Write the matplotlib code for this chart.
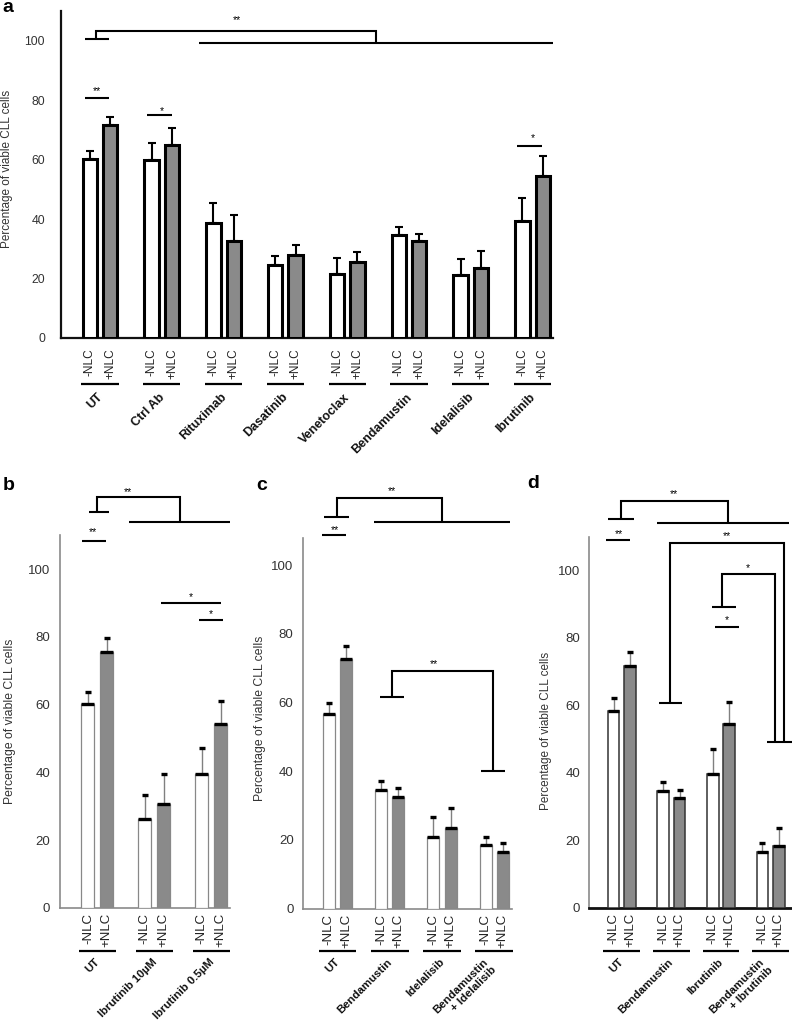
import numpy as np
import matplotlib
matplotlib.use('Agg')
import matplotlib.pyplot as plt

plt.rcParams['font.family'] = ['Liberation Sans', 'DejaVu Sans']

# ---------------- data ----------------
conditions = ['-NLC', '+NLC']

a_groups = ['UT', 'Ctrl Ab', 'Rituximab', 'Dasatinib', 'Venetoclax', 'Bendamustin', 'Idelalisib', 'Ibrutinib']
a_neg = [60.1, 59.9, 38.7, 24.4, 21.5, 34.6, 21.0, 39.4]
a_neg_err = [2.8, 5.6, 6.6, 3.2, 5.3, 2.6, 5.6, 7.8]
a_pos = [71.6, 65.0, 32.6, 27.9, 25.6, 32.6, 23.6, 54.5]
a_pos_err = [2.8, 5.6, 8.6, 3.4, 3.3, 2.4, 5.7, 6.6]

b_groups = ['UT', 'Ibrutinib 10µM', 'Ibrutinib 0.5µM']
b_neg = [60.1, 26.3, 39.4]
b_neg_err = [3.7, 7.0, 7.9]
b_pos = [75.5, 30.7, 54.3]
b_pos_err = [4.2, 8.7, 6.9]

c_groups = ['UT', 'Bendamustin', 'Idelalisib', 'Bendamustin\n+ Idelalisib']
c_neg = [56.8, 34.5, 20.9, 18.5]
c_neg_err = [3.1, 2.7, 5.7, 2.4]
c_pos = [72.8, 32.4, 23.5, 16.4]
c_pos_err = [3.6, 2.6, 5.9, 2.6]

d_groups = ['UT', 'Bendamustin', 'Ibrutinib', 'Bendamustin\n+ Ibrutinib']
d_neg = [58.4, 34.5, 39.6, 16.4]
d_neg_err = [3.7, 2.7, 7.6, 2.7]
d_pos = [71.7, 32.5, 54.5, 18.4]
d_pos_err = [4.1, 2.4, 6.6, 5.1]

yticks = [0, 20, 40, 60, 80, 100]
ylabel = 'Percentage of viable CLL cells'

# ---------------- layout helpers ----------------
W, H = 792, 1025
fig = plt.figure(figsize=(W / 100, H / 100), dpi=100)


def fx(px):
    return px / W


def fy(py):
    return 1 - py / H


def make_axes(left, right, top, bottom):
    return fig.add_axes([fx(left), fy(bottom), (right - left) / W, (bottom - top) / H])


GRAY = '#8a8a8a'
OFF, BW = 0.165, 0.23


def draw_panel(ax, groups, neg, neg_err, pos, pos_err, style, xlim, ylim,
               line_y, label_y, half, tick_fs, tick_pad, xt_pad, xt_fs, grp_fs):
    x = np.arange(len(groups))
    xn, xp = x - OFF, x + OFF
    neg, pos = np.array(neg), np.array(pos)
    neg_err, pos_err = np.array(neg_err), np.array(pos_err)
    if style == 'a':
        for xs, v, e, fc in [(xn, neg, neg_err, 'white'), (xp, pos, pos_err, GRAY)]:
            ax.errorbar(xs, v, yerr=[np.zeros_like(e), e], fmt='none', ecolor='black',
                        elinewidth=1.5, capsize=2.6, capthick=1.5, zorder=2)
            ax.bar(xs, v, width=BW, color=fc, edgecolor='black', linewidth=2.2, zorder=3)
    else:
        ec = '#888888' if style == 'b' else '#333333'
        elw = 0.9 if style == 'b' else 1.1
        for xs, v, e, fc in [(xn, neg, neg_err, 'white'), (xp, pos, pos_err, GRAY)]:
            ax.errorbar(xs, v, yerr=[np.zeros_like(e), e], fmt='none', ecolor='#808080',
                        elinewidth=1.0, capsize=0, zorder=2)
            ax.plot(xs, v + e, linestyle='none', marker='_', ms=4.2, mew=2.4,
                    color='black', zorder=4)
            ax.bar(xs, v, width=BW, color=fc, edgecolor=ec, linewidth=elw, zorder=3)
            ax.hlines(v, xs - BW / 2, xs + BW / 2, color='black', lw=2.4, zorder=4)

    ax.set_xlim(*xlim)
    ax.set_ylim(*ylim)
    ax.set_yticks(yticks)
    ax.set_yticklabels([str(t) for t in yticks])
    ax.tick_params(axis='y', length=0, pad=tick_pad, labelsize=tick_fs, labelcolor='#333333')
    ticks = np.ravel(np.column_stack([xn, xp]))
    ax.set_xticks(ticks)
    ax.set_xticklabels(conditions * len(groups), rotation=90, fontsize=xt_fs, color='#222222')
    ax.tick_params(axis='x', length=0, pad=xt_pad)
    for s in ['top', 'right']:
        ax.spines[s].set_visible(False)
    ax.patch.set_alpha(0)

    for i, g in enumerate(groups):
        ax.plot([i - half, i + half], [line_y, line_y], color='black', lw=1.6,
                clip_on=False, solid_capstyle='butt')
        ax.text(i + 0.08, label_y, g, rotation=45, ha='right', va='top',
                fontsize=grp_fs, fontweight='bold', color='#111111', clip_on=False,
                linespacing=1.2)


def seg(ax, xs, ys, lw=1.5):
    ax.plot(xs, ys, color='black', lw=lw, clip_on=False, solid_capstyle='butt',
            solid_joinstyle='miter', zorder=5)


def star(ax, x, y, s):
    ax.annotate(s, (x, y), xytext=(0, -4), textcoords='offset points', ha='center',
                va='baseline', fontsize=7.5, color='black', annotation_clip=False)


# ---------------- panel a ----------------
axa = make_axes(61, 553, 11.3, 337.7)
draw_panel(axa, a_groups, a_neg, a_neg_err, a_pos, a_pos_err, 'a', (-0.631, 7.33), (0, 110),
           line_y=-15.6, label_y=-18.0, half=0.30, tick_fs=8.8, tick_pad=11.5,
           xt_pad=7.4, xt_fs=8.6, grp_fs=9)
for s in ['left', 'bottom']:
    axa.spines[s].set_linewidth(1.6)
    axa.spines[s].set_color('#111111')
seg(axa, [-0.24, 0.15], [80.9, 80.9]); star(axa, -0.05, 84, '**')
seg(axa, [0.765, 1.17], [75.0, 75.0]); star(axa, 1.0, 77.4, '*')
seg(axa, [6.75, 7.155], [64.6, 64.6]); star(axa, 7.0, 68, '*')
seg(axa, [-0.24, 0.15], [100.8, 100.8])
seg(axa, [-0.07, -0.07, 4.466, 4.466], [100.8, 103.5, 103.5, 99.2])
seg(axa, [1.6, 7.33], [99.2, 99.2])
star(axa, 2.22, 108, '**')

# ---------------- panel b ----------------
axb = make_axes(60, 230, 535.1, 908)
draw_panel(axb, b_groups, b_neg, b_neg_err, b_pos, b_pos_err, 'b', (-0.655, 2.33), (0, 110),
           line_y=-12.6, label_y=-14.4, half=0.325, tick_fs=9.5, tick_pad=7,
           xt_pad=3.6, xt_fs=9.5, grp_fs=8.2)
for s in ['left', 'bottom']:
    axb.spines[s].set_color('#8a8a8a')
    axb.spines[s].set_linewidth(1.2)
seg(axb, [-0.27, 0.153], [108.4, 108.4]); star(axb, -0.07, 111.7, '**')
seg(axb, [-0.146, 0.2], [116.9, 116.9])
seg(axb, [0.0, 0.0, 1.453, 1.453], [116.9, 121.3, 121.3, 113.9])
seg(axb, [0.557, 2.33], [113.9, 113.9]); star(axb, 0.534, 123.5, '**')
seg(axb, [1.114, 2.169], [90.1, 90.1]); star(axb, 1.647, 92.5, '*')
seg(axb, [1.782, 2.204], [85.1, 85.1]); star(axb, 2.0, 87.4, '*')

# ---------------- panel c ----------------
axc = make_axes(303.3, 512, 537.5, 908.75)
draw_panel(axc, c_groups, c_neg, c_neg_err, c_pos, c_pos_err, 'b', (-0.654, 3.34), (0, 108),
           line_y=-12.2, label_y=-14.0, half=0.36, tick_fs=9.5, tick_pad=7,
           xt_pad=3.6, xt_fs=9.5, grp_fs=8.2)
for s in ['left', 'bottom']:
    axc.spines[s].set_color('#8a8a8a')
    axc.spines[s].set_linewidth(1.2)
seg(axc, [-0.302, 0.157], [108.8, 108.8]); star(axc, -0.054, 110.9, '**')
seg(axc, [-0.253, 0.226], [113.9, 113.9])
seg(axc, [-0.01, -0.01, 1.993, 1.993], [113.9, 119.4, 119.4, 112.4])
seg(axc, [0.704, 3.3], [112.4, 112.4]); star(axc, 1.05, 122.2, '**')
seg(axc, [0.813, 1.278], [61.6, 61.6])
seg(axc, [1.05, 1.05, 2.969, 2.969], [61.6, 69.1, 69.1, 40.0])
seg(axc, [2.74, 3.205], [40.0, 40.0]); star(axc, 1.846, 72, '**')

# ---------------- panel d ----------------
axd = make_axes(589.3, 792, 536.9, 907.6)
draw_panel(axd, d_groups, d_neg, d_neg_err, d_pos, d_pos_err, 'd', (-0.653, 3.43), (0, 110),
           line_y=-12.8, label_y=-14.6, half=0.37, tick_fs=9.5, tick_pad=6.5,
           xt_pad=3.6, xt_fs=9.5, grp_fs=8.2)
axd.spines['left'].set_color('#8a8a8a')
axd.spines['left'].set_linewidth(1.2)
axd.spines['bottom'].set_color('#111111')
axd.spines['bottom'].set_linewidth(2.0)
seg(axd, [-0.317, 0.167], [109.1, 109.1]); star(axd, -0.05, 111.7, '**')
seg(axd, [-0.27, 0.254], [115.3, 115.3])
seg(axd, [-0.014, -0.014, 2.137, 2.137], [115.3, 120.7, 120.7, 114.0])
seg(axd, [0.706, 3.36], [114.0, 114.0]); star(axd, 1.054, 123.6, '**')
seg(axd, [0.974, 0.974, 3.272, 3.272], [60.6, 108.3, 108.3, 49.2])
seg(axd, [0.758, 1.222], [60.6, 60.6])
seg(axd, [2.935, 3.427], [49.2, 49.2]); star(axd, 2.123, 111, '**')
seg(axd, [2.022, 2.022, 3.09, 3.09], [89.3, 98.9, 98.9, 49.2])
seg(axd, [1.815, 2.306], [89.3, 89.3]); star(axd, 2.54, 101.5, '*')
seg(axd, [1.88, 2.37], [83.4, 83.4]); star(axd, 2.117, 86, '*')

# ---------------- y labels & panel letters ----------------
for (px, py, fs) in [(7.5, 169, 8.5), (10, 721.5, 8.8), (259.5, 718, 8.8), (546, 731, 8.5)]:
    fig.text(fx(px), fy(py), ylabel, rotation=90, ha='center', va='center',
             fontsize=fs, color='#333333')

for (px, py, t) in [(2, 12, 'a'), (3, 490, 'b'), (256, 490, 'c'), (527, 488, 'd')]:
    fig.text(fx(px), fy(py), t, ha='left', va='baseline', fontsize=14, fontweight='bold')

fig.savefig('out.png', dpi=100)
